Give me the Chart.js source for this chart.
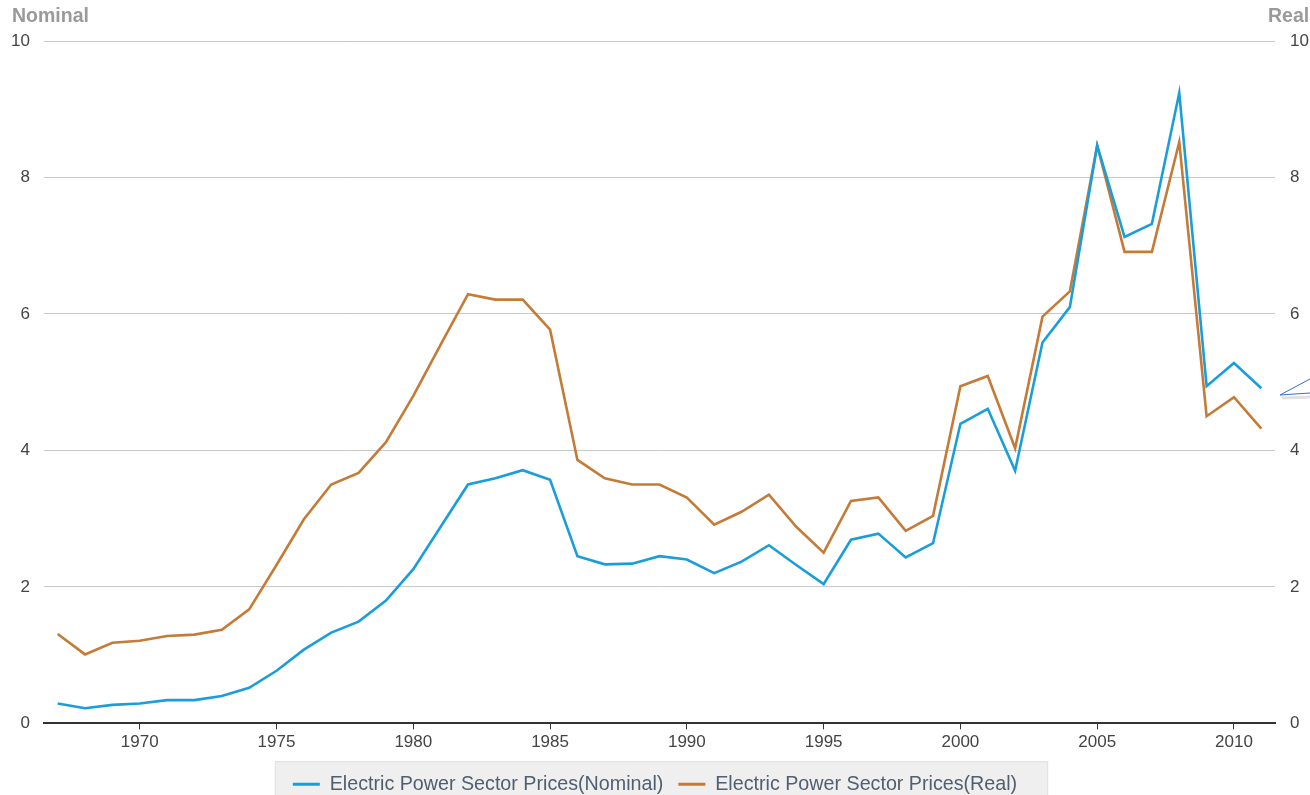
<!DOCTYPE html>
<html>
<head>
<meta charset="utf-8">
<title>Electric Power Sector Prices</title>
<script src="https://cdn.jsdelivr.net/npm/chart.js@4.4.1/dist/chart.umd.min.js"></script>
<style>
  html, body { margin: 0; padding: 0; background: #fff; overflow: hidden; }
  #wrap { width: 1310px; height: 795px; overflow: hidden; }
</style>
</head>
<body>
<div id="wrap">
  <canvas id="price-chart" width="1310" height="810"></canvas>
</div>
<script>
/* =========================================================
   Data
   ========================================================= */
const years = [
  1967, 1968, 1969, 1970, 1971, 1972, 1973, 1974, 1975, 1976, 1977, 1978, 1979,
  1980, 1981, 1982, 1983, 1984, 1985, 1986, 1987, 1988, 1989,
  1990, 1991, 1992, 1993, 1994, 1995, 1996, 1997, 1998, 1999,
  2000, 2001, 2002, 2003, 2004, 2005, 2006, 2007, 2008, 2009, 2010, 2011
];

const nominalPrices = [
  0.29, 0.22, 0.27, 0.29, 0.34, 0.34, 0.40, 0.52, 0.77, 1.08, 1.33, 1.49, 1.80,
  2.26, 2.88, 3.50, 3.59, 3.71, 3.57, 2.45, 2.33, 2.34, 2.45,
  2.40, 2.20, 2.37, 2.61, 2.32, 2.04, 2.69, 2.78, 2.43, 2.64,
  4.39, 4.61, 3.70, 5.58, 6.10, 8.47, 7.13, 7.32, 9.24, 4.94, 5.28, 4.91
];

const realPrices = [
  1.31, 1.01, 1.18, 1.21, 1.28, 1.30, 1.37, 1.67, 2.32, 2.99, 3.50, 3.67, 4.12,
  4.80, 5.55, 6.29, 6.21, 6.21, 5.77, 3.86, 3.59, 3.50, 3.50,
  3.31, 2.91, 3.10, 3.35, 2.88, 2.50, 3.26, 3.31, 2.82, 3.04,
  4.94, 5.09, 4.03, 5.96, 6.33, 8.47, 6.91, 6.91, 8.52, 4.50, 4.78, 4.32
];

const seriesNames = ['Electric Power Sector Prices(Nominal)', 'Electric Power Sector Prices(Real)'];
const axisTitles = ['Nominal', 'Real'];
const yMin = 0;
const yMax = 10;
const yStep = 2;
const labelEvery = 5;

/* =========================================================
   Styling
   ========================================================= */
const FONT = "'Liberation Sans', Arial, sans-serif";
const BLUE = '#1a9edb';
const ORANGE = '#c47b37';
const TICK_COLOR = '#444';
const GRID_COLOR = '#c9c9c9';

/* =========================================================
   Extras: axis titles, legend panel, callout pointer
   ========================================================= */
const decorPlugin = {
  id: 'decor',
  beforeDraw(chart) {
    const ctx = chart.ctx;
    const lg = chart.legend;
    if (lg && lg.legendHitBoxes && lg.legendHitBoxes.length) {
      const hb = lg.legendHitBoxes;
      const last = hb[hb.length - 1];
      const x0 = hb[0].left - 18;
      const x1 = last.left + last.width + 31;
      const y0 = hb[0].top - 13;
      ctx.save();
      ctx.fillStyle = '#efefef';
      ctx.strokeStyle = '#e0e0e0';
      ctx.lineWidth = 1;
      ctx.fillRect(x0, y0, x1 - x0, 60);
      ctx.strokeRect(x0 + 0.5, y0 + 0.5, x1 - x0 - 1, 60);
      ctx.restore();
    }
  },
  afterDraw(chart) {
    const ctx = chart.ctx;
    const area = chart.chartArea;
    ctx.save();
    ctx.font = 'bold 19.5px ' + FONT;
    ctx.fillStyle = '#9a9a9a';
    ctx.textBaseline = 'middle';
    ctx.textAlign = 'left';
    ctx.fillText(axisTitles[0], area.left - 32, 17);
    ctx.fillText(axisTitles[1], area.right - 7, 17);

    // small tooltip pointer poking in from the right edge
    const tipX = area.right + 5;
    const tipY = 395;
    ctx.strokeStyle = 'rgba(0,0,0,0.12)';
    ctx.lineWidth = 3;
    ctx.beginPath();
    ctx.moveTo(tipX + 2, tipY + 3);
    ctx.lineTo(chart.width, tipY + 2);
    ctx.stroke();
    ctx.strokeStyle = '#3a6fc4';
    ctx.lineWidth = 1;
    ctx.beginPath();
    ctx.moveTo(chart.width, tipY - 16);
    ctx.lineTo(tipX, tipY);
    ctx.lineTo(chart.width, tipY - 2);
    ctx.stroke();
    ctx.restore();
  }
};

/* =========================================================
   Chart
   ========================================================= */
function initPriceChart() {
  const canvas = document.getElementById('price-chart');
  if (!canvas) return;

  new Chart(canvas.getContext('2d'), {
    type: 'line',
    data: {
      labels: years,
      datasets: [
        {
          label: seriesNames[0],
          data: nominalPrices,
          borderColor: BLUE,
          backgroundColor: BLUE,
          borderWidth: 2.6,
          pointRadius: 0,
          tension: 0,
          yAxisID: 'y'
        },
        {
          label: seriesNames[1],
          data: realPrices,
          borderColor: ORANGE,
          backgroundColor: ORANGE,
          borderWidth: 2.6,
          pointRadius: 0,
          tension: 0,
          yAxisID: 'y1'
        }
      ]
    },
    options: {
      responsive: false,
      animation: false,
      layout: { padding: { top: 41, bottom: 6, left: 0, right: 0 } },
      plugins: {
        tooltip: { enabled: false },
        legend: {
          position: 'bottom',
          labels: {
            font: { family: FONT, size: 19.7 },
            color: '#4f5f70',
            boxWidth: 27,
            boxHeight: 3,
            padding: 15,
            generateLabels: chart =>
              Chart.defaults.plugins.legend.labels.generateLabels(chart)
                .map(item => Object.assign(item, { lineWidth: 0 }))
          }
        }
      },
      scales: {
        x: {
          type: 'category',
          offset: true,
          afterFit: s => { s.height = 36; },
          grid: {
            offset: false,
            drawOnChartArea: false,
            drawTicks: true,
            tickLength: 6,
            tickColor: c => (years[c.index] % labelEvery === 0 ? '#333' : 'rgba(0,0,0,0)')
          },
          border: { display: true, color: '#333', width: 2 },
          ticks: {
            autoSkip: false,
            maxRotation: 0,
            padding: 3,
            color: TICK_COLOR,
            font: { family: FONT, size: 17 },
            callback: (v, i) => (years[i] % labelEvery === 0 ? String(years[i]) : '')
          }
        },
        y: {
          position: 'left',
          min: yMin,
          max: yMax,
          afterFit: s => { s.width = 44; },
          grid: { color: GRID_COLOR, lineWidth: 1, drawTicks: false },
          border: { display: false },
          ticks: {
            stepSize: yStep,
            padding: 14,
            color: TICK_COLOR,
            font: { family: FONT, size: 17 }
          }
        },
        y1: {
          position: 'right',
          min: yMin,
          max: yMax,
          afterFit: s => { s.width = 35; },
          grid: { drawOnChartArea: false, drawTicks: false },
          border: { display: false },
          ticks: {
            stepSize: yStep,
            padding: 15,
            color: TICK_COLOR,
            font: { family: FONT, size: 17 }
          }
        }
      }
    },
    plugins: [decorPlugin]
  });
}

document.addEventListener('DOMContentLoaded', initPriceChart);
</script>
</body>
</html>
